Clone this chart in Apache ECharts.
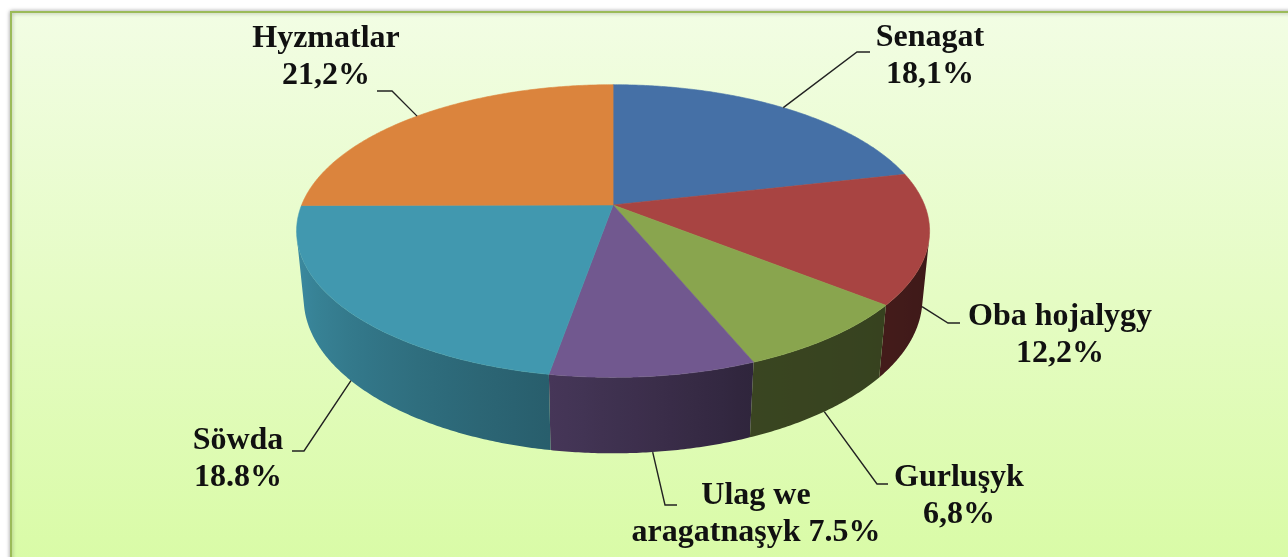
<!DOCTYPE html>
<html><head><meta charset="utf-8">
<script src="https://cdn.jsdelivr.net/npm/echarts@6/dist/echarts.min.js"></script>
<style>html,body{margin:0;padding:0;background:#fff}#c{width:1288px;height:557px}</style>
</head><body><div id="c"></div>
<script>
// ---- data ----
const categories = ['Senagat', 'Oba hojalygy', 'Gurluşyk', 'Ulag we aragatnaşyk', 'Söwda', 'Hyzmatlar'];
const values = [18.1, 12.2, 6.8, 7.5, 18.8, 21.2];
const valueLabels = ['18,1%', '12,2%', '6,8%', '7.5%', '18.8%', '21,2%'];
const labelNames = ['Senagat', 'Oba hojalygy', 'Gurluşyk', 'Ulag we\naragatnaşyk', 'Söwda', 'Hyzmatlar'];

// ---- style / layout ----
const colors = ['#4570A6', '#A84442', '#89A54E', '#71588F', '#4198AF', '#DB843D'];
const labelSep = ['\n', '\n', '\n', ' ', '\n', '\n'];
// elbow + end of leader line, text centre (pixels)
const labelLayout = [
  {elbow: [857, 52], end: [870, 52], text: [930, 56]},
  {elbow: [948, 323], end: [960, 323], text: [1060, 335]},
  {elbow: [877, 484], end: [888, 484], text: [959, 496]},
  {elbow: [665, 505], end: [677, 505], text: [756, 514]},
  {elbow: [304, 451], end: [292, 451], text: [238, 459]},
  {elbow: [392, 91], end: [377, 91], text: [326, 57]}
];
const SIN = 0.455, COS = Math.sqrt(1 - SIN * SIN), DIST = 5.0, DEPTH = 0.245;
const shadeStops = [[90, 0.34], [103, 0.36], [129, 0.40], [158, 0.42], [190, 0.62], [257, 0.93], [270, 0.95]];
const FONT_FAMILY = "'Liberation Serif', 'Times New Roman', serif";

const total = values.reduce((a, b) => a + b, 0);
const starts = [];
{ let acc = 0; values.forEach(v => { starts.push(acc / total * Math.PI * 2); acc += v; }); }

function proj(th, yw, cx, cy, R) {
  const px = Math.sin(th), pz = -Math.cos(th);
  const cyy = yw * COS - pz * SIN;
  const czz = yw * SIN + pz * COS;
  const k = R * DIST / (DIST - czz);
  return [cx + px * k, cy - cyy * k];
}
function shade(hex, f) {
  const n = parseInt(hex.slice(1), 16);
  const r = Math.round(((n >> 16) & 255) * f), g = Math.round(((n >> 8) & 255) * f), b = Math.round((n & 255) * f);
  return 'rgb(' + r + ',' + g + ',' + b + ')';
}
function shadeAt(deg) {
  for (let i = 1; i < shadeStops.length; i++) {
    if (deg <= shadeStops[i][0]) {
      const a = shadeStops[i - 1], b = shadeStops[i];
      const t = (deg - a[0]) / (b[0] - a[0]);
      return a[1] + (b[1] - a[1]) * Math.max(0, Math.min(1, t));
    }
  }
  return shadeStops[shadeStops.length - 1][1];
}

function renderItem(params, api) {
  const i = params.dataIndex;
  const W = api.getWidth(), H = api.getHeight();
  const cx = W * 0.476, cy = H * 0.368, R = W * 0.2418;
  const t0 = starts[i], t1 = t0 + api.value(0) / total * Math.PI * 2;
  const step = Math.PI / 360;
  const children = [];
  // top face
  const top = [[cx, cy]];
  for (let t = t0; t < t1; t += step) top.push(proj(t, 0, cx, cy, R));
  top.push(proj(t1, 0, cx, cy, R));
  children.push({type: 'polygon', shape: {points: top}, style: {fill: colors[i], stroke: colors[i], lineWidth: 0.6}, z2: 10});
  // visible outer wall
  const alpha = Math.acos(1 / (DIST * COS));
  const va = Math.max(t0, Math.PI - alpha), vb = Math.min(t1, Math.PI + alpha);
  if (vb > va) {
    const up = [], dn = [];
    for (let t = va; t < vb; t += step) { up.push(proj(t, 0, cx, cy, R)); dn.push(proj(t, -DEPTH, cx, cy, R)); }
    up.push(proj(vb, 0, cx, cy, R)); dn.push(proj(vb, -DEPTH, cx, cy, R));
    const xa = up[0][0], xb = up[up.length - 1][0];
    const stops = [];
    const N = 12;
    for (let k = 0; k <= N; k++) {
      const t = va + (vb - va) * k / N;
      const x = proj(t, 0, cx, cy, R)[0];
      stops.push({offset: Math.max(0, Math.min(1, (x - xa) / (xb - xa))), color: shade(colors[i], shadeAt(t * 180 / Math.PI))});
    }
    children.push({
      type: 'polygon', shape: {points: up.concat(dn.reverse())},
      style: {fill: {type: 'linear', x: xa, y: 0, x2: xb, y2: 0, global: true, colorStops: stops}},
      z2: 1
    });
  }
  // leader + label
  const mid = (t0 + t1) / 2;
  const visible = mid >= Math.PI - alpha - 0.01 && mid <= Math.PI + alpha;
  const anchor = proj(mid, visible ? -DEPTH : 0, cx, cy, R);
  const L = labelLayout[i];
  children.push({type: 'polyline', shape: {points: [anchor, L.elbow, L.end]}, style: {stroke: '#222', lineWidth: 1.4, fill: null}, z2: 20});
  children.push({
    type: 'text', x: L.text[0], y: L.text[1],
    style: {
      text: labelNames[i] + labelSep[i] + valueLabels[i],
      fontFamily: FONT_FAMILY, fontWeight: 'bold', fontSize: 32,
      lineHeight: 37, fill: '#111', align: 'center', verticalAlign: 'middle'
    },
    z2: 20
  });
  return {type: 'group', children: children};
}

const chart = echarts.init(document.getElementById('c'), null, {renderer: 'canvas'});
chart.setOption({
  animation: false,
  graphic: [{
    type: 'rect', silent: true, z: -10,
    shape: {x: 11, y: 12, width: 1300, height: 570},
    style: {
      fill: new echarts.graphic.LinearGradient(0, 0, 0, 1, [{offset: 0, color: '#f2fde4'}, {offset: 1, color: '#d8fba4'}]),
      stroke: '#9bbb59', lineWidth: 2, shadowBlur: 4, shadowColor: 'rgba(0,0,0,0.35)'
    }
  }],
  series: [{
    type: 'custom', coordinateSystem: 'none', renderItem: renderItem,
    data: values.map((v, i) => ({name: categories[i], value: v}))
  }]
});
</script></body></html>
